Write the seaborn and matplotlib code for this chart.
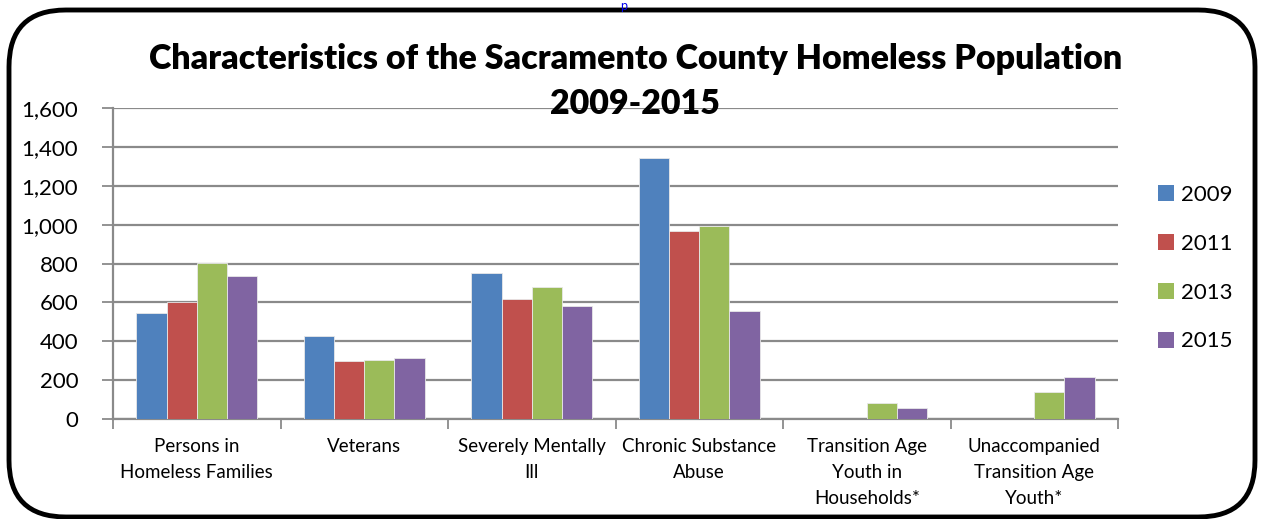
import matplotlib
matplotlib.use("Agg")
import matplotlib.pyplot as plt
from matplotlib.patches import FancyBboxPatch
import numpy as np
import pandas as pd
import seaborn as sns

categories = [
    "Persons in\nHomeless Families",
    "Veterans",
    "Severely Mentally\nIll",
    "Chronic Substance\nAbuse",
    "Transition Age\nYouth in\nHouseholds*",
    "Unaccompanied\nTransition Age\nYouth*",
]
years = ["2009", "2011", "2013", "2015"]
values_2009 = [544, 425, 753, 1341, np.nan, np.nan]
values_2011 = [603, 298, 617, 967, np.nan, np.nan]
values_2013 = [801, 303, 677, 991, 80, 138]
values_2015 = [736, 315, 581, 554, 59, 214]
y_ticks = [0, 200, 400, 600, 800, 1000, 1200, 1400, 1600]
colors = ["#4F81BD", "#C0504D", "#9BBB59", "#8064A2"]

rows = []
for year, vals in zip(years, [values_2009, values_2011, values_2013, values_2015]):
    for cat, v in zip(categories, vals):
        rows.append({"category": cat, "year": year, "count": v})
df = pd.DataFrame(rows)

sns.set_theme(style="white")
plt.rcParams["font.family"] = ["Lato", "DejaVu Sans"]
plt.rcParams["text.color"] = "black"
plt.rcParams["xtick.labelcolor"] = "black"
plt.rcParams["ytick.labelcolor"] = "black"

fig = plt.figure(figsize=(12.63, 5.19), dpi=100)
ax = fig.add_axes([113 / 1263, 1 - 419 / 519, (1118 - 113) / 1263, (419 - 108) / 519])

sns.barplot(
    data=df, x="category", y="count", hue="year",
    order=categories, hue_order=years, palette=colors,
    errorbar=None, width=0.72, ax=ax, saturation=1,
    edgecolor="#e8e8e8", linewidth=0.6, zorder=3,
)

ax.set_ylim(0, 1600)
ax.set_xlim(-0.5, len(categories) - 0.5)
ax.set_yticks(y_ticks)
ax.set_yticklabels([f"{t:,}" for t in y_ticks], fontsize=16)
ax.yaxis.grid(True, color="#8a8a8a", linewidth=1.6, zorder=0)
ax.set_axisbelow(True)

# category boundaries carry the tick marks, centers carry the labels
ax.set_xticks(np.arange(-0.5, len(categories), 1.0))
ax.set_xticklabels([])
ax.set_xticks(np.arange(len(categories)), minor=True)
ax.set_xticklabels(categories, minor=True, fontsize=13.5, linespacing=1.63, va="top")
ax.tick_params(axis="x", which="major", length=7, width=1.3, color="#8a8a8a", direction="out", bottom=True)
ax.tick_params(axis="x", which="minor", length=0, pad=14)
ax.tick_params(axis="y", length=8, width=1.3, color="#8a8a8a", direction="out", left=True, pad=17)

for side in ["top", "right"]:
    ax.spines[side].set_visible(False)
for side in ["left", "bottom"]:
    ax.spines[side].set_color("#8a8a8a")
    ax.spines[side].set_linewidth(1.6)
ax.set_xlabel("")
ax.set_ylabel("")

leg = ax.legend(
    loc="center left", bbox_to_anchor=(1.02, 0.485), frameon=False,
    fontsize=16, handlelength=0.72, handleheight=0.72, handletextpad=0.3,
    labelspacing=1.3,
)
for h in leg.legend_handles:
    h.set_edgecolor("none")

fig.text(0.503, 0.886, "Characteristics of the Sacramento County Homeless Population",
         ha="center", va="center", fontsize=24.5, fontweight="heavy")
fig.text(0.503, 0.8, "2009-2015", ha="center", va="center", fontsize=24.5, fontweight="heavy")

# small link text above the frame
fig.text(0.494, 1.0, "p", ha="center", va="top", fontsize=9, color="#0000ee")

frame = FancyBboxPatch(
    (9 / 1263, 2 / 519), 1246 / 1263, 507 / 519,
    boxstyle="round,pad=0,rounding_size=0.045", transform=fig.transFigure,
    fill=False, edgecolor="black", linewidth=3.5, mutation_aspect=1263 / 519,
)
fig.patches.append(frame)

fig.savefig("out.png", dpi=100)
